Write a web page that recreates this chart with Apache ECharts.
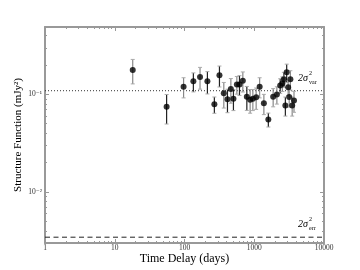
<!DOCTYPE html>
<html>
<head>
<meta charset="utf-8">
<script src="https://cdn.jsdelivr.net/npm/echarts@6/dist/echarts.min.js"></script>
<style>html,body{margin:0;padding:0;background:#fff;}#c{width:360px;height:270px;}</style>
</head>
<body>
<div id="c"></div>
<script>
// ---- data ----
// points whose error bars are drawn dark
const delayA = [55.4, 134, 213, 268, 317, 413, 503, 614, 783, 1592, 2354, 2660, 2793, 2918];
const sfA    = [0.0747, 0.136, 0.136, 0.079, 0.157, 0.0889, 0.0902, 0.1265, 0.0945, 0.0553, 0.1235, 0.1432, 0.0769, 0.168];
const errA   = [0.025, 0.03, 0.035, 0.015, 0.038, 0.024, 0.022, 0.029, 0.026, 0.009, 0.021, 0.025, 0.017, 0.036];
// points whose error bars are drawn grey
const delayB = [18.1, 97, 167, 366, 462, 563, 686, 873, 955, 1065, 1195, 1374, 1867, 2110, 2530, 3064, 3170, 3296, 3498, 3714];
const sfB    = [0.178, 0.120, 0.151, 0.1024, 0.1132, 0.1265, 0.1377, 0.0881, 0.0902, 0.0932, 0.120, 0.081, 0.0945, 0.0995, 0.129, 0.118, 0.094, 0.1426, 0.0769, 0.0865];
const errB   = [0.05, 0.028, 0.038, 0.03, 0.032, 0.026, 0.032, 0.024, 0.022, 0.023, 0.028, 0.019, 0.02, 0.02, 0.022, 0.021, 0.02, 0.032, 0.017, 0.021];
const sigmaVar = 0.109;   // 2 sigma^2 var level
const sigmaErr = 0.00344; // 2 sigma^2 err level
const xTicks = [1, 10, 100, 1000, 10000];
const xTickLabels = ['1', '10', '100', '1000', '10000'];
const yTicks = [0.01, 0.1];
const yTickLabels = ['10\u207B\u00B2', '10\u207B\u00B9'];
const xRange = [1, 10000];
const yRange = [0.003, 0.49];

// minor tick positions (2..9 within each decade)
function minorTicks(lo, hi) {
  const out = [];
  for (let d = Math.floor(Math.log10(lo)); d < Math.ceil(Math.log10(hi)); d++) {
    for (let k = 2; k <= 9; k++) {
      const v = k * Math.pow(10, d);
      if (v > lo && v < hi) out.push(+v.toPrecision(6));
    }
  }
  return out;
}
const xMinor = minorTicks(xRange[0], xRange[1]);
const yMinor = minorTicks(yRange[0], yRange[1]);

const FONT = "'Liberation Serif', 'DejaVu Serif', serif";
const AX = '#999';

function mk(t, s, e) { return t.map((v, i) => [v, s[i], e[i]]); }
const dataA = mk(delayA, sfA, errA);
const dataB = mk(delayB, sfB, errB);

function errRender(color) {
  return function (params, api) {
    const x = api.value(0), y = api.value(1), e = api.value(2);
    const top = api.coord([x, y + e]);
    const bot = api.coord([x, Math.max(y - e, 1e-6)]);
    const cw = 2;
    const st = { stroke: color, lineWidth: 1.2 };
    return {
      type: 'group',
      children: [
        { type: 'line', shape: { x1: top[0], y1: top[1], x2: bot[0], y2: bot[1] }, style: st },
        { type: 'line', shape: { x1: top[0] - cw, y1: top[1], x2: top[0] + cw, y2: top[1] }, style: { stroke: '#aaa', lineWidth: 1 } },
        { type: 'line', shape: { x1: bot[0] - cw, y1: bot[1], x2: bot[0] + cw, y2: bot[1] }, style: { stroke: '#aaa', lineWidth: 1 } }
      ]
    };
  };
}

function xAx(pos, ticks, len, showLine, labels) {
  return {
    type: 'log', logBase: 10, min: xRange[0], max: xRange[1], position: pos,
    axisLine: { show: showLine, onZero: false, lineStyle: { color: AX, width: 2 } },
    axisTick: { show: true, inside: true, length: len, customValues: ticks, lineStyle: { color: AX, width: 1 } },
    axisLabel: labels ? {
      show: true, customValues: ticks, fontSize: 7.5, color: '#333', fontFamily: FONT, margin: 1,
      formatter: v => xTickLabels[xTicks.findIndex(t => Math.abs(Math.log10(t) - Math.log10(v)) < 1e-6)] || ''
    } : { show: false },
    splitLine: { show: false }, minorTick: { show: false }
  };
}
function yAx(pos, ticks, len, showLine, labels) {
  return {
    type: 'log', logBase: 10, min: yRange[0], max: yRange[1], position: pos,
    axisLine: { show: showLine, onZero: false, lineStyle: { color: AX, width: 2 } },
    axisTick: { show: true, inside: true, length: len, customValues: ticks, lineStyle: { color: AX, width: 1 } },
    axisLabel: labels ? {
      show: true, customValues: ticks, fontSize: 7.5, color: '#333', fontFamily: FONT, margin: 3,
      formatter: v => yTickLabels[yTicks.findIndex(t => Math.abs(Math.log10(t) - Math.log10(v)) < 1e-6)] || ''
    } : { show: false },
    splitLine: { show: false }, minorTick: { show: false }
  };
}

const chart = echarts.init(document.getElementById('c'), null, { renderer: 'canvas' });
const xAxes = [
  Object.assign(xAx('bottom', xTicks, 4, true, true), {
    name: 'Time Delay (days)', nameLocation: 'middle', nameGap: 10, nameMoveOverlap: false,
    nameTextStyle: { fontFamily: FONT, fontSize: 12, color: '#000' }
  }),
  xAx('bottom', xMinor, 2, false, false),
  xAx('top', xTicks, 4, true, false),
  xAx('top', xMinor, 2, false, false)
];
const yAxes = [
  Object.assign(yAx('left', yTicks, 4, true, true), {
    name: 'Structure Function (mJy\u00B2)', nameLocation: 'middle', nameGap: 21, nameMoveOverlap: false,
    nameTextStyle: { fontFamily: FONT, fontSize: 11, color: '#000' }
  }),
  yAx('left', yMinor, 2, false, false),
  yAx('right', yTicks, 4, true, false),
  yAx('right', yMinor, 2, false, false)
];

chart.setOption({
  animation: false,
  backgroundColor: '#fff',
  grid: { left: 45, right: 36, top: 27, bottom: 27, containLabel: false, outerBoundsMode: 'none' },
  xAxis: xAxes,
  yAxis: yAxes,
  series: [
    {
      type: 'line', data: xRange.map(x => [x, sigmaVar]), symbol: 'none', silent: true, z: 1,
      lineStyle: { type: [1, 2], color: '#333', width: 1 }
    },
    {
      type: 'line', data: xRange.map(x => [x, sigmaErr]), symbol: 'none', silent: true, z: 1,
      lineStyle: { type: [5, 3.5], color: '#222', width: 1 }
    },
    { type: 'custom', renderItem: errRender('#222'), data: dataA, encode: { x: 0, y: 1 }, z: 2, silent: true },
    { type: 'custom', renderItem: errRender('#888'), data: dataB, encode: { x: 0, y: 1 }, z: 2, silent: true },
    { type: 'scatter', data: dataA.map(d => [d[0], d[1]]), symbol: 'circle', symbolSize: 6, itemStyle: { color: '#000' }, z: 5 },
    { type: 'scatter', data: dataB.map(d => [d[0], d[1]]), symbol: 'circle', symbolSize: 6, itemStyle: { color: '#000' }, z: 5 }
  ],
  graphic: [
    { type: 'text', left: 298, top: 73, style: { text: '2\u03C3', font: "italic 10px " + FONT, fill: '#000' } },
    { type: 'text', left: 309, top: 70, style: { text: '2', font: "6px " + FONT, fill: '#000' } },
    { type: 'text', left: 309, top: 79, style: { text: 'var', font: "6px " + FONT, fill: '#000' } },
    { type: 'text', left: 298, top: 219, style: { text: '2\u03C3', font: "italic 10px " + FONT, fill: '#000' } },
    { type: 'text', left: 309, top: 216, style: { text: '2', font: "6px " + FONT, fill: '#000' } },
    { type: 'text', left: 309, top: 225, style: { text: 'err', font: "6px " + FONT, fill: '#000' } }
  ]
});
</script>
</body>
</html>
